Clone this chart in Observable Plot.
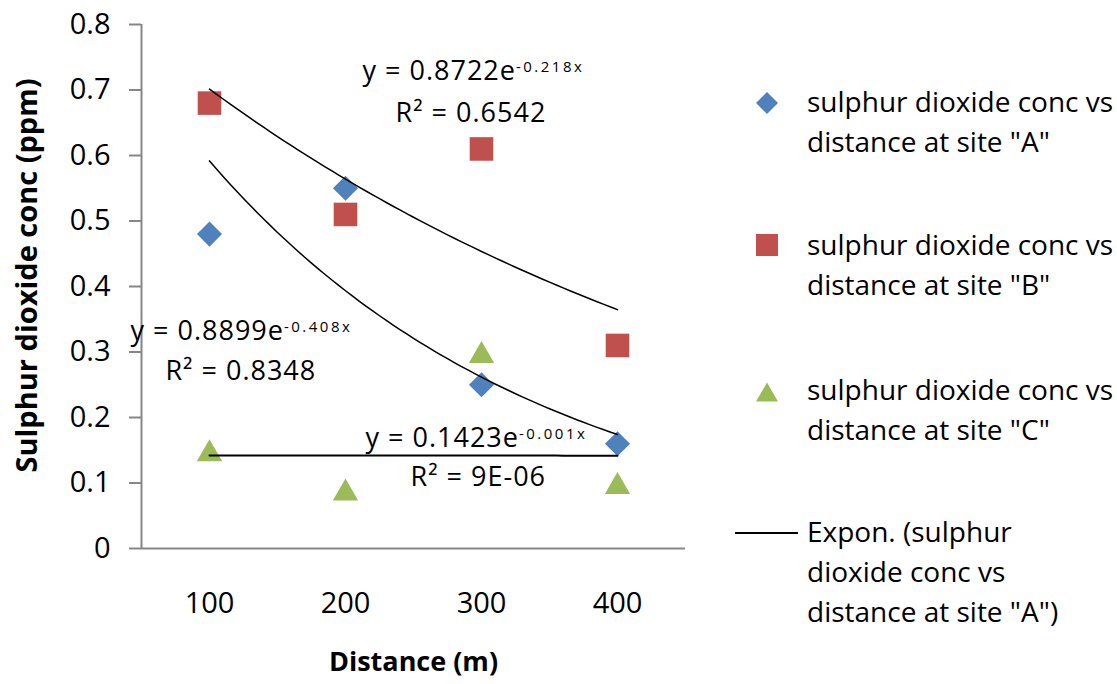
<!DOCTYPE html>
<html><head><meta charset="utf-8">
<script src="https://cdn.jsdelivr.net/npm/d3@7"></script>
<script src="https://cdn.jsdelivr.net/npm/@observablehq/plot@0.6"></script>
<style>
body{margin:0;background:#fff;}
#wrap{position:relative;width:1117px;height:684px;font-family:"Open Sans",sans-serif;overflow:hidden;}
#wrap svg.plot{position:absolute;left:0;top:0;}
.leg{position:absolute;left:807px;font-size:28px;line-height:40px;color:#000;white-space:nowrap;font-family:"Open Sans",sans-serif;}
.sym{position:absolute;overflow:visible;}
</style></head><body><div id="wrap"></div>
<script>
// ---- data ----
const distances = [100, 200, 300, 400];
const siteA = [0.48, 0.55, 0.25, 0.16];
const siteB = [0.68, 0.51, 0.61, 0.31];
const siteC = [0.15, 0.09, 0.30, 0.10];
const seriesColors = ["#4F81BD", "#C0504D", "#9BBB59"];
const legendLabels = [
  ['sulphur dioxide conc vs', 'distance at site "A"'],
  ['sulphur dioxide conc vs', 'distance at site "B"'],
  ['sulphur dioxide conc vs', 'distance at site "C"'],
  ['Expon. (sulphur', 'dioxide conc vs', 'distance at site "A")']
];
// exponential trendlines y = a * exp(b * k), k = category index 1..4 (as displayed)
const trendA = [0.8899, -0.408];
const trendB = [0.8722, -0.218];
const trendC = [0.1423, -0.001];
const yTicks = [0, 0.1, 0.2, 0.3, 0.4, 0.5, 0.6, 0.7, 0.8];
// trend labels: text and anchor in data units
const eqLabels = [
  {text: "y = 0.8722e^-0.218x", x: 212.5, y: 0.729},
  {text: "R² = 0.6542", x: 236.8, y: 0.664},
  {text: "y = 0.8899e^-0.408x", x: 41.9, y: 0.331},
  {text: "R² = 0.8348", x: 67.6, y: 0.270},
  {text: "y = 0.1423e^-0.001x", x: 214.7, y: 0.168},
  {text: "R² = 9E-06", x: 247.8, y: 0.108}
];
const xDomain = [50, 450];
const yDomain = [0, 0.8];

const rows = (vals) => distances.map((d, i) => ({distance: d, value: vals[i]}));
const trendRows = (coef) => {
  const out = [];
  for (let k = 1; k <= 4.0001; k += 0.05) out.push({distance: k * 100, value: coef[0] * Math.exp(coef[1] * k)});
  return out;
};

const plot = Plot.plot({
  width: 1117,
  height: 684,
  marginLeft: 141,
  marginRight: 432,
  marginTop: 24,
  marginBottom: 136,
  style: {fontFamily: "Open Sans, sans-serif", color: "#000", background: "transparent"},
  x: {domain: xDomain, axis: null},
  y: {domain: yDomain, axis: null},
  marks: [
    Plot.axisY({ticks: yTicks, tickSize: 12, tickPadding: 19, fontSize: 29, stroke: "#868686", strokeWidth: 2,
      tickFormat: d => d === 0 ? "0" : d.toFixed(1)}),
    Plot.axisX({ticks: distances, tickSize: 0, tickPadding: 44, fontSize: 29, tickFormat: d => String(d)}),
    Plot.ruleX([xDomain[0]], {y1: yDomain[0], y2: yDomain[1], stroke: "#868686", strokeWidth: 2}),
    Plot.ruleY([yDomain[0]], {stroke: "#868686", strokeWidth: 2}),
    Plot.dot(rows(siteA), {x: "distance", y: "value", symbol: "diamond2", r: 11.3, fill: seriesColors[0], stroke: "none"}),
    Plot.dot(rows(siteB), {x: "distance", y: "value", symbol: "square", r: 13.3, fill: seriesColors[1], stroke: "none"}),
    Plot.dot(rows(siteC), {x: "distance", y: "value", symbol: "triangle", r: 9.4, dy: 3.6, fill: seriesColors[2], stroke: "none"}),
    Plot.line(trendRows(trendA), {x: "distance", y: "value", stroke: "#000", strokeWidth: 1.5, curve: "linear"}),
    Plot.line(trendRows(trendB), {x: "distance", y: "value", stroke: "#000", strokeWidth: 1.5, curve: "linear"}),
    Plot.line(trendRows(trendC), {x: "distance", y: "value", stroke: "#000", strokeWidth: 2}),
    Plot.text(eqLabels, {x: "x", y: "y", text: "text", textAnchor: "start", fontSize: 27, fill: "#000"}),
    Plot.text(["Sulphur dioxide conc (ppm)"], {frameAnchor: "left", textAnchor: "middle", rotate: -90, dx: -114, dy: -11, fontSize: 29, fontWeight: "bold", fill: "#000"}),
    Plot.text(["Distance (m)"], {frameAnchor: "bottom", textAnchor: "middle", dy: 122, fontSize: 27, fontWeight: "bold", fill: "#000"})
  ]
});
plot.classList.add("plot");
const wrap = document.getElementById("wrap");
wrap.appendChild(plot);

// superscripts for equation exponents and letter spacing on trend labels
const NS = "http://www.w3.org/2000/svg";
plot.querySelectorAll("text").forEach(t => {
  const s = t.textContent;
  if (s.includes("=")) t.setAttribute("letter-spacing", "1");
  const i = s.indexOf("^");
  if (i < 0) return;
  while (t.firstChild) t.removeChild(t.firstChild);
  const a = document.createElementNS(NS, "tspan");
  a.textContent = s.slice(0, i);
  const b = document.createElementNS(NS, "tspan");
  b.textContent = s.slice(i + 1);
  b.setAttribute("font-size", "15");
  b.setAttribute("letter-spacing", "2.5");
  b.setAttribute("dy", "-8");
  t.appendChild(a); t.appendChild(b);
});

// legend (HTML overlay)
const legTops = [81, 224, 369, 511];
const symCenters = [103, 245, 392, 533];
const legSyms = [
  {type: d3.symbolDiamond2, size: 308, color: seriesColors[0], dy: 0},
  {type: d3.symbolSquare, size: 484, color: seriesColors[1], dy: 0},
  {type: d3.symbolTriangle, size: 210, color: seriesColors[2], dy: 3.2}
];
legendLabels.forEach((lines, i) => {
  const div = document.createElement("div");
  div.className = "leg";
  div.style.top = legTops[i] + "px";
  lines.forEach((ln, j) => {
    if (j) div.appendChild(document.createElement("br"));
    div.appendChild(document.createTextNode(ln));
  });
  wrap.appendChild(div);
  const svg = d3.create("svg").attr("class", "sym").attr("width", 80).attr("height", 40)
    .style("left", "727px").style("top", (symCenters[i] - 20) + "px");
  if (i < 3) {
    const s = legSyms[i];
    svg.append("path").attr("transform", `translate(40,${20 + s.dy})`)
      .attr("d", d3.symbol(s.type, s.size)()).attr("fill", s.color);
  } else {
    svg.append("line").attr("x1", 8).attr("x2", 71).attr("y1", 20).attr("y2", 20)
      .attr("stroke", "#000").attr("stroke-width", 2);
  }
  wrap.appendChild(svg.node());
});
</script>
</body></html>
